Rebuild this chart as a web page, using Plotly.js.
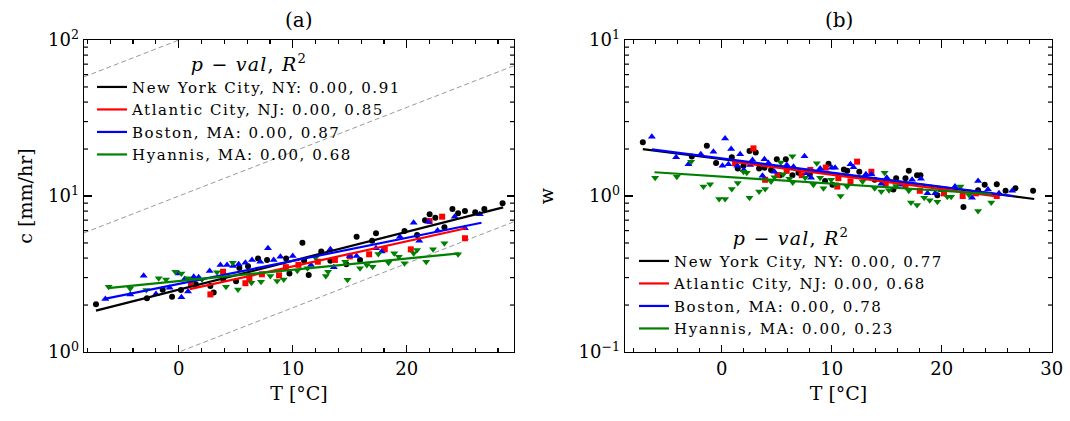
<!DOCTYPE html>
<html>
<head>
<meta charset="utf-8">
<script src="https://cdn.plot.ly/plotly-3.0.1.min.js"></script>
<style>
html,body{margin:0;padding:0;background:#fff;}
#chart{width:1070px;height:421px;}
text[class*="legend"]{letter-spacing:1.55px !important;}
text[class*="titletext"]{letter-spacing:1.2px !important;}
</style>
</head>
<body>
<div id="chart"></div>
<script>
// ---------- data ----------
const stations = ['New York City, NY', 'Atlantic City, NJ', 'Boston, MA', 'Hyannis, MA'];
const colors = ['#000000', '#ff0000', '#0000ff', '#008000'];
const symbols = ['circle', 'square', 'triangle-up', 'triangle-down'];
const pvalA = ['0.00', '0.00', '0.00', '0.00'];
const r2A = ['0.91', '0.85', '0.87', '0.68'];
const pvalB = ['0.00', '0.00', '0.00', '0.00'];
const r2B = ['0.77', '0.68', '0.78', '0.23'];

// panel (a): c [mm/hr] vs T
const nycTa = [-7.25, -2.78, -1.40, -0.58, 0.20, 1.5, 2.78, 3.07, 3.9, 5.03, 5.32, 6.08, 6.96, 7.75, 9.42, 9.71, 10.85, 11.0, 11.4, 12.5, 13.3, 14.7, 15.6, 15.9, 16.96, 17.3, 19.8, 20.9, 21.6, 22.0, 22.5, 23.3, 24.0, 24.5, 25.1, 26.0, 26.8, 28.4];
const nycC  = [2.02, 2.21, 2.51, 2.26, 2.50, 2.72, 2.65, 2.41, 2.95, 2.84, 3.45, 3.54, 3.98, 3.89, 3.98, 3.19, 5.02, 3.85, 3.12, 4.4, 3.85, 3.65, 5.48, 3.89, 5.17, 5.76, 5.97, 5.62, 7.0, 7.64, 7.26, 6.3, 8.26, 7.75, 8.0, 7.87, 8.26, 8.98];
const acyTa = [1.08, 2.78, 3.89, 5.85, 6.2, 7.3, 8.8, 9.4, 10.5, 12.2, 13.7, 15.0, 16.7, 18.07, 20.35, 22.0, 23.1, 25.1];
const acyC  = [2.73, 2.34, 3.27, 2.76, 2.97, 3.15, 3.1, 3.5, 3.62, 3.79, 3.89, 4.1, 4.23, 4.55, 4.55, 6.91, 7.37, 5.36];
const bosTa = [-6.43, -4.24, -3.07, -1.99, -0.79, 0, 0.24, 0.53, 0.82, 1.32, 1.75, 2.72, 3.66, 4.24, 4.77, 5.26, 5.85, 6.43, 7.16, 7.83, 8.33, 8.92, 10.0, 11.6, 13.3, 13.6, 15.0, 15.6, 17.3, 17.8, 19.4, 20.6, 21.1, 21.9, 22.7, 24.2, 25.1, 26.4];
const bosC  = [2.19, 2.34, 3.08, 2.35, 2.58, 3.19, 2.24, 2.94, 2.44, 3.04, 3.01, 3.3, 3.61, 3.61, 3.56, 3.65, 3.74, 3.89, 3.79, 4.62, 3.89, 4.08, 4.12, 3.61, 4.55, 3.49, 4.12, 4.12, 4.62, 4.4, 5.48, 6.74, 5.17, 6.84, 6.0, 7.37, 6.21, 7.64];
const hyaTa = [-6.14, -4.25, -2.84, -1.75, -1.11, -0.29, 0.24, 0.79, 1.32, 2.05, 3.36, 4.15, 4.74, 5.2, 6.38, 7.22, 8.04, 8.63, 9.21, 10.4, 11.3, 12.0, 12.9, 13.1, 14.6, 14.8, 15.9, 16.5, 17.0, 17.5, 18.4, 18.9, 19.3, 19.8, 20.6, 20.9, 21.7, 22.3, 23.3, 24.5];
const hyaC  = [2.62, 2.55, 2.5, 2.97, 2.92, 3.27, 3.19, 2.97, 2.9, 2.92, 3.24, 2.62, 3.74, 2.52, 2.78, 2.82, 3.07, 2.85, 2.92, 3.32, 3.44, 4.02, 3.07, 3.27, 3.79, 2.9, 3.44, 3.61, 3.52, 4.25, 3.74, 4.29, 4.08, 3.7, 4.29, 4.51, 3.79, 4.55, 4.98, 4.23];

// panel (b): w vs T
const nycTb = [-7.18, -2.73, -1.36, -0.52, 0.91, 1.45, 1.97, 2.52, 3.09, 3.39, 3.88, 4.48, 5.0, 5.3, 5.82, 6.42, 6.97, 8.0, 9.39, 9.7, 10.06, 11.1, 11.4, 12.5, 13.9, 15.6, 15.85, 16.7, 17.0, 17.75, 18.06, 19.6, 21.97, 23.3, 23.9, 25.0, 25.8, 26.7, 28.3];
const nycW  = [2.21, 1.79, 2.10, 1.63, 1.77, 1.50, 1.56, 1.94, 1.90, 1.50, 1.52, 1.47, 1.72, 1.36, 1.72, 1.36, 1.41, 1.38, 1.25, 1.61, 1.18, 1.48, 1.45, 1.43, 1.27, 1.10, 1.30, 1.30, 1.45, 1.36, 1.36, 1.01, 0.85, 1.09, 1.18, 1.19, 1.08, 1.12, 1.08];
const acyTb = [1.21, 2.88, 3.94, 5.06, 5.9, 7.27, 8.05, 9.45, 10.5, 10.6, 11.7, 12.3, 13.6, 14.9, 16.7, 18.0, 20.2, 21.9, 23.1, 25.0];
const acyW  = [1.62, 2.02, 1.27, 1.36, 1.45, 1.36, 1.47, 1.52, 1.15, 1.30, 1.24, 1.66, 1.43, 1.20, 1.17, 1.08, 1.04, 1.0, 1.04, 1.0];
const bosTb = [-6.36, -4.15, -3.03, -1.91, -0.76, 0.06, 0.3, 0.6, 0.85, 1.42, 1.67, 2.0, 2.58, 2.79, 3.7, 3.88, 4.24, 4.79, 5.91, 6.52, 7.52, 7.73, 8.12, 8.94, 10.0, 10.3, 11.7, 11.97, 13.1, 13.6, 14.5, 15.0, 16.15, 17.3, 18.1, 18.7, 19.4, 20.0, 21.2, 22.75, 23.3, 24.2, 25.2, 26.4];
const bosW  = [2.40, 1.77, 1.60, 1.85, 1.92, 1.56, 2.34, 1.60, 2.0, 1.56, 1.85, 1.47, 1.58, 1.70, 1.35, 1.72, 1.63, 1.43, 1.58, 1.54, 1.80, 1.40, 1.31, 1.50, 1.52, 1.52, 1.60, 1.53, 1.38, 1.38, 1.2, 1.31, 1.18, 1.27, 1.29, 1.04, 1.04, 1.09, 1.15, 0.975, 1.25, 1.10, 1.04, 1.08];
const hyaTb = [-6.06, -4.09, -2.79, -1.67, -1.06, -0.24, 0.3, 0.91, 1.45, 1.97, 2.27, 2.52, 3.39, 3.94, 4.48, 4.79, 5.36, 5.6, 6.15, 6.42, 6.45, 7.58, 8.33, 8.64, 8.94, 9.24, 9.94, 10.3, 10.8, 11.4, 12.8, 13.9, 14.5, 14.8, 15.2, 15.85, 17.0, 17.2, 17.75, 18.4, 18.9, 19.6, 20.5, 20.85, 21.7, 22.5, 23.3, 24.5];
const hyaW  = [1.31, 1.33, 1.66, 1.15, 1.19, 0.957, 0.957, 1.11, 1.21, 1.43, 1.41, 0.975, 1.07, 1.11, 1.24, 1.32, 1.64, 1.38, 1.29, 1.80, 1.22, 1.31, 1.18, 1.62, 1.31, 1.12, 1.27, 1.19, 1.0, 1.15, 1.24, 1.12, 1.07, 1.41, 1.09, 1.16, 1.08, 0.91, 0.875, 0.975, 0.94, 0.92, 0.99, 0.99, 1.15, 1.01, 0.80, 0.91];

// fitted regression lines (end points)
const fitTa = [[-7.25, 28.45], [0.96, 25.2], [-6.5, 26.55], [-6.2, 24.6]];
const fitCa = [[1.84, 8.46], [2.53, 6.21], [2.19, 6.74], [2.57, 4.29]];
const fitTb = [[-7.18, 28.4], [0.96, 25.2], [-6.36, 26.5], [-6.12, 24.5]];
const fitWb = [[2.0, 0.957], [1.66, 0.99], [1.99, 1.0], [1.42, 1.03]];

// dashed grey reference lines in panel (a)
const refT = [-8.3, 29.4];
const refC = [[0.58, 6.84], [5.8, 68.4], [58, 684]];

// axis ranges
const xRangeA = [-8.3, 29.4], yRangeA = [0, 2];
const xRangeB = [-8.8, 30.02], yRangeB = [-1, 1];

// ---------- figure ----------
const F = 'DejaVu Serif';
const W = 1070, H = 421;
const px = v => v / W, py = v => 1 - v / H;
const domXA = [px(84), px(514)], domXB = [px(625), px(1052)];
const yDom = [py(352), py(40)];

const ptsA = [[nycTa, nycC], [acyTa, acyC], [bosTa, bosC], [hyaTa, hyaC]];
const ptsB = [[nycTb, nycW], [acyTb, acyW], [bosTb, bosW], [hyaTb, hyaW]];

const traces = [];
refC.forEach(rc => traces.push({
  x: refT, y: rc, xaxis: 'x', yaxis: 'y', mode: 'lines', showlegend: false, hoverinfo: 'skip',
  line: {color: '#9a9a9a', width: 1, dash: '5px,3px'}
}));
for (let i = 0; i < 4; i++) {
  const sz = symbols[i].startsWith('triangle') ? 7 : 6;
  traces.push({x: ptsA[i][0], y: ptsA[i][1], xaxis: 'x', yaxis: 'y', mode: 'markers', showlegend: false,
    marker: {color: colors[i], symbol: symbols[i], size: sz}});
  traces.push({x: ptsB[i][0], y: ptsB[i][1], xaxis: 'x2', yaxis: 'y2', mode: 'markers', showlegend: false,
    marker: {color: colors[i], symbol: symbols[i], size: sz}});
}
for (let i = 0; i < 4; i++) {
  traces.push({x: fitTa[i], y: fitCa[i], xaxis: 'x', yaxis: 'y', mode: 'lines', legend: 'legend',
    name: stations[i] + ': ' + pvalA[i] + ', ' + r2A[i], line: {color: colors[i], width: 2.2}});
}
for (let i = 0; i < 4; i++) {
  traces.push({x: fitTb[i], y: fitWb[i], xaxis: 'x2', yaxis: 'y2', mode: 'lines', legend: 'legend2',
    name: stations[i] + ': ' + pvalB[i] + ', ' + r2B[i], line: {color: colors[i], width: 2.2}});
}

const MAJOR_LEN = 7.5, MINOR_LEN = 4;
function xAxis(domain, range, anchor) {
  return {
    domain: domain, range: range, anchor: anchor,
    showline: true, linecolor: 'black', linewidth: 1.4, mirror: 'allticks',
    ticks: 'inside', ticklen: MAJOR_LEN, tickwidth: 1.4, tickcolor: 'black',
    tickmode: 'linear', tick0: 0, dtick: 10,
    minor: {ticks: 'inside', ticklen: MINOR_LEN, tickwidth: 1.2, tickcolor: 'black', dtick: 2, tick0: 0, showgrid: false},
    showgrid: false, zeroline: false,
    tickfont: {family: F, size: 18, color: 'black'},
    title: {text: 'T [°C]', font: {family: F, size: 19, color: 'black'}, standoff: 8}
  };
}
function yAxis(domain, range, anchor, title, alias, standoff) {
  return {
    domain: domain, range: range, anchor: anchor, type: 'log',
    showline: true, linecolor: 'black', linewidth: 1.4, mirror: 'allticks',
    ticks: 'inside', ticklen: MAJOR_LEN, tickwidth: 1.4, tickcolor: 'black',
    tickmode: 'linear', tick0: 0, dtick: 1, labelalias: alias,
    showgrid: false, zeroline: false,
    tickfont: {family: F, size: 18, color: 'black'},
    title: {text: title, font: {family: F, size: 19, color: 'black'}, standoff: standoff}
  };
}

// minor ticks of the log y axes (2..9 in every decade), inside on the left and right edges
function logMinorShapes(xId, yId, yRange, xDomPx) {
  const shapes = [];
  const ln = {color: 'black', width: 1.2};
  const fx = MINOR_LEN / xDomPx;
  for (let d = yRange[0]; d < yRange[1]; d++) {
    for (let m = 2; m <= 9; m++) {
      const f = (d + Math.log10(m) - yRange[0]) / (yRange[1] - yRange[0]);
      shapes.push({type: 'line', xref: xId + ' domain', yref: yId + ' domain', x0: 0, x1: fx, y0: f, y1: f, line: ln});
      shapes.push({type: 'line', xref: xId + ' domain', yref: yId + ' domain', x0: 1 - fx, x1: 1, y0: f, y1: f, line: ln});
    }
  }
  return shapes;
}
const shapes = logMinorShapes('x', 'y', yRangeA, 430).concat(logMinorShapes('x2', 'y2', yRangeB, 427));

const legendTitle = '<i>p</i> − <i>val</i>, <i>R</i><sup>2</sup>';
const legendBase = {
  xanchor: 'left', yanchor: 'top', bgcolor: 'rgba(0,0,0,0)', borderwidth: 0,
  font: {family: F, size: 15, color: 'black'}, tracegroupgap: 0,
  title: {text: legendTitle, side: 'top center', font: {family: F, size: 19, color: 'black'}}
};

const layout = {
  width: W, height: H, margin: {l: 0, r: 0, t: 0, b: 0},
  paper_bgcolor: 'white', plot_bgcolor: 'white',
  font: {family: F, color: 'black'},
  xaxis: xAxis(domXA, xRangeA, 'y'),
  yaxis: yAxis(yDom, yRangeA, 'x', 'c [mm/hr]', {'1': '10<sup>0</sup>', '10': '10<sup>1</sup>', '100': '10<sup>2</sup>'}, 10),
  xaxis2: xAxis(domXB, xRangeB, 'y2'),
  yaxis2: yAxis(yDom, yRangeB, 'x2', 'w', {'0.1': '10<sup>−1</sup>', '1': '10<sup>0</sup>', '10': '10<sup>1</sup>'}, 20),
  shapes: shapes,
  legend: Object.assign({}, legendBase, {x: px(92), y: py(46)}),
  legend2: Object.assign({}, legendBase, {x: px(634), y: py(220)}),
  annotations: [
    {text: '(a)', x: px(299), y: py(20), xref: 'paper', yref: 'paper', showarrow: false, xanchor: 'center', yanchor: 'middle', font: {family: F, size: 20, color: 'black'}},
    {text: '(b)', x: px(838.5), y: py(20), xref: 'paper', yref: 'paper', showarrow: false, xanchor: 'center', yanchor: 'middle', font: {family: F, size: 20, color: 'black'}}
  ]
};

Plotly.newPlot('chart', traces, layout, {staticPlot: true, displayModeBar: false});
</script>
</body>
</html>
